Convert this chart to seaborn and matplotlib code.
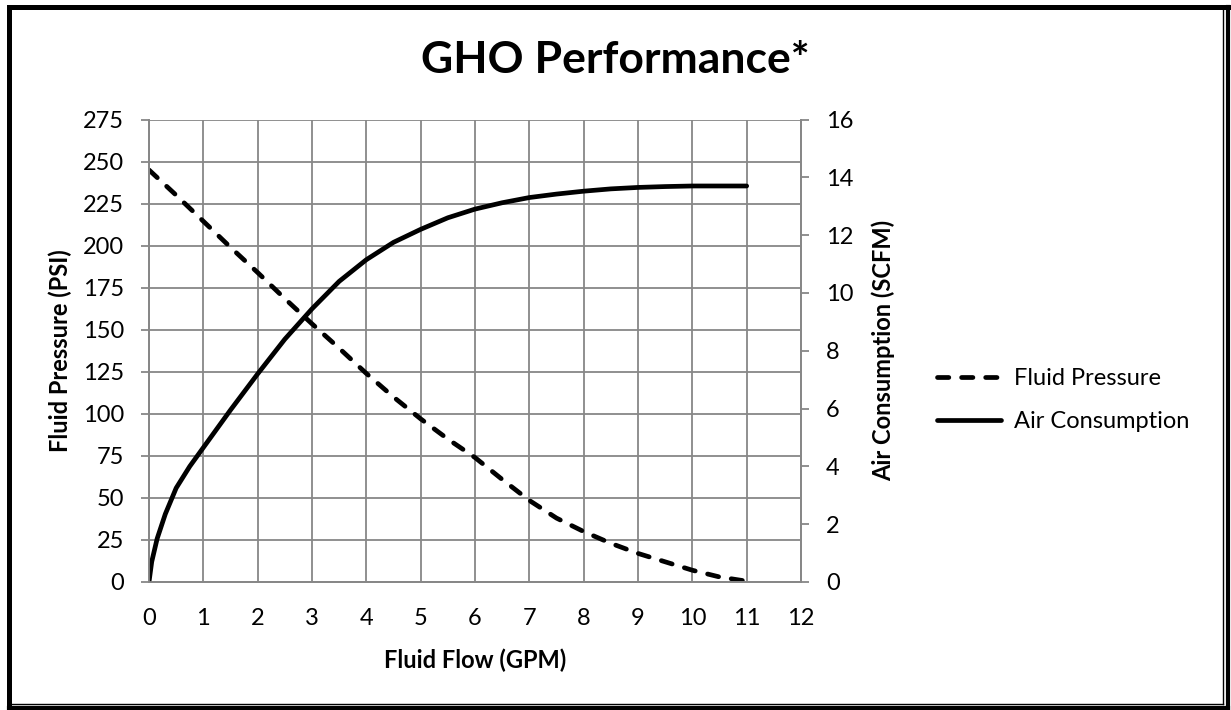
import matplotlib
matplotlib.use("Agg")
import matplotlib.pyplot as plt
from matplotlib.lines import Line2D
import seaborn as sns
import pandas as pd

# ---- data ----
pressure_flow = [0, 0.5, 1, 1.5, 2, 2.5, 3, 3.5, 4, 4.5, 5, 5.5, 6, 6.5, 7, 7.5,
                 8, 8.5, 9, 9.5, 10, 10.5, 11]
fluid_pressure = [245, 230, 214.5, 199, 184, 168.5, 153.5, 139, 124, 110, 97, 85,
                  74, 61, 48.5, 38, 30, 23, 17, 12, 7, 3, 0.5]

air_flow = [0, 0.05, 0.15, 0.3, 0.5, 0.75, 1, 1.5, 2, 2.5, 3, 3.5, 4, 4.5, 5, 5.5,
            6, 6.5, 7, 7.5, 8, 8.5, 9, 9.5, 10, 10.5, 11]
air_consumption = [0, 0.7, 1.5, 2.35, 3.25, 4.0, 4.65, 5.95, 7.2, 8.4, 9.45, 10.4,
                   11.15, 11.75, 12.2, 12.6, 12.9, 13.12, 13.3, 13.42, 13.52, 13.6,
                   13.65, 13.68, 13.7, 13.7, 13.7]

x_ticks = list(range(0, 13))
left_ticks = list(range(0, 276, 25))
right_ticks = list(range(0, 17, 2))

title = "GHO Performance*"
x_label = "Fluid Flow (GPM)"
left_label = "Fluid Pressure (PSI)"
right_label = "Air Consumption (SCFM)"
series_names = ["Fluid Pressure", "Air Consumption"]

# ---- style ----
sns.set_theme(style="white")
plt.rcParams['font.family'] = ['Lato', 'DejaVu Sans']
plt.rcParams['text.color'] = 'black'
plt.rcParams['axes.labelcolor'] = 'black'

GRID = "#878787"
FS = 17
DASH = (2.4, 2.7)
df_p = pd.DataFrame({"flow": pressure_flow, "val": fluid_pressure})
df_a = pd.DataFrame({"flow": air_flow, "val": air_consumption})

fig = plt.figure(figsize=(12.31, 7.10), dpi=100)
ax = fig.add_axes([149 / 1231, 1 - 582 / 710, (801 - 149) / 1231, (582 - 119.5) / 710])
ax2 = ax.twinx()

lw = 3.4
sns.lineplot(data=df_p, x="flow", y="val", ax=ax, color="black", linewidth=lw,
             estimator=None, sort=False)
ln_p = ax.lines[0]
ln_p.set_dashes(DASH)
ln_p.set_dash_capstyle("round")
sns.lineplot(data=df_a, x="flow", y="val", ax=ax2, color="black", linewidth=lw,
             estimator=None, sort=False)
ax2.lines[0].set_solid_capstyle("round")

ax.set_xlim(0, 12)
ax.set_ylim(0, 275)
ax2.set_ylim(0, 16)
ax.set_xticks(x_ticks)
ax.set_yticks(left_ticks)
ax2.set_yticks(right_ticks)

ax.grid(True, color=GRID, linewidth=1.3)
ax2.grid(False)
for a in (ax, ax2):
    for s in a.spines.values():
        s.set_color(GRID)
        s.set_linewidth(1.3)
    a.set_facecolor("none")
ax.spines['top'].set_visible(False)
ax2.spines['top'].set_visible(False)

ax.tick_params(axis="both", which="major", labelsize=FS, colors="black",
               direction="out", length=6, width=1.3, color=GRID, pad=12)
ax.tick_params(axis="x", pad=13)
ax2.tick_params(axis="y", labelsize=FS, colors="black", direction="out",
                length=6, width=1.3, color=GRID, pad=12, right=True)

ax.set_xlabel(x_label, fontsize=FS, fontweight="bold", labelpad=14)
ax.set_ylabel(left_label, fontsize=FS, fontweight="bold", labelpad=8)
ax2.set_ylabel(right_label, fontsize=FS, fontweight="bold", labelpad=13)

fig.text(0.5, 1 - 60 / 710, title, ha="center", va="center",
         fontsize=32, fontweight="bold")

handles = [Line2D([], [], color="black", linewidth=lw, dashes=DASH,
                  dash_capstyle="round"),
           Line2D([], [], color="black", linewidth=lw)]
fig.legend(handles, series_names, loc="center left",
           bbox_to_anchor=(937 / 1231, 1 - 400 / 710), frameon=False,
           fontsize=FS, handlelength=2.7, handletextpad=0.55, labelspacing=0.95,
           borderpad=0, borderaxespad=0)

# ---- outer border ----
def fline(x0, y0, x1, y1, w):
    fig.add_artist(Line2D([x0 / 1231, x1 / 1231], [1 - y0 / 710, 1 - y1 / 710],
                          color="black", linewidth=w, transform=fig.transFigure,
                          solid_capstyle="projecting"))

fline(8.5, 6.5, 8.5, 708, 3.6)     # left
fline(8.5, 6.5, 1228, 6.5, 3.6)    # top
fline(1228, 6.5, 1228, 708, 3.0)   # right outer
fline(8.5, 708, 1228, 708, 3.0)    # bottom outer
fline(1223, 8, 1223, 703.5, 1.0)   # right inner
fline(10, 703.5, 1223, 703.5, 1.0) # bottom inner

fig.savefig("out.png", dpi=100, facecolor="white")
